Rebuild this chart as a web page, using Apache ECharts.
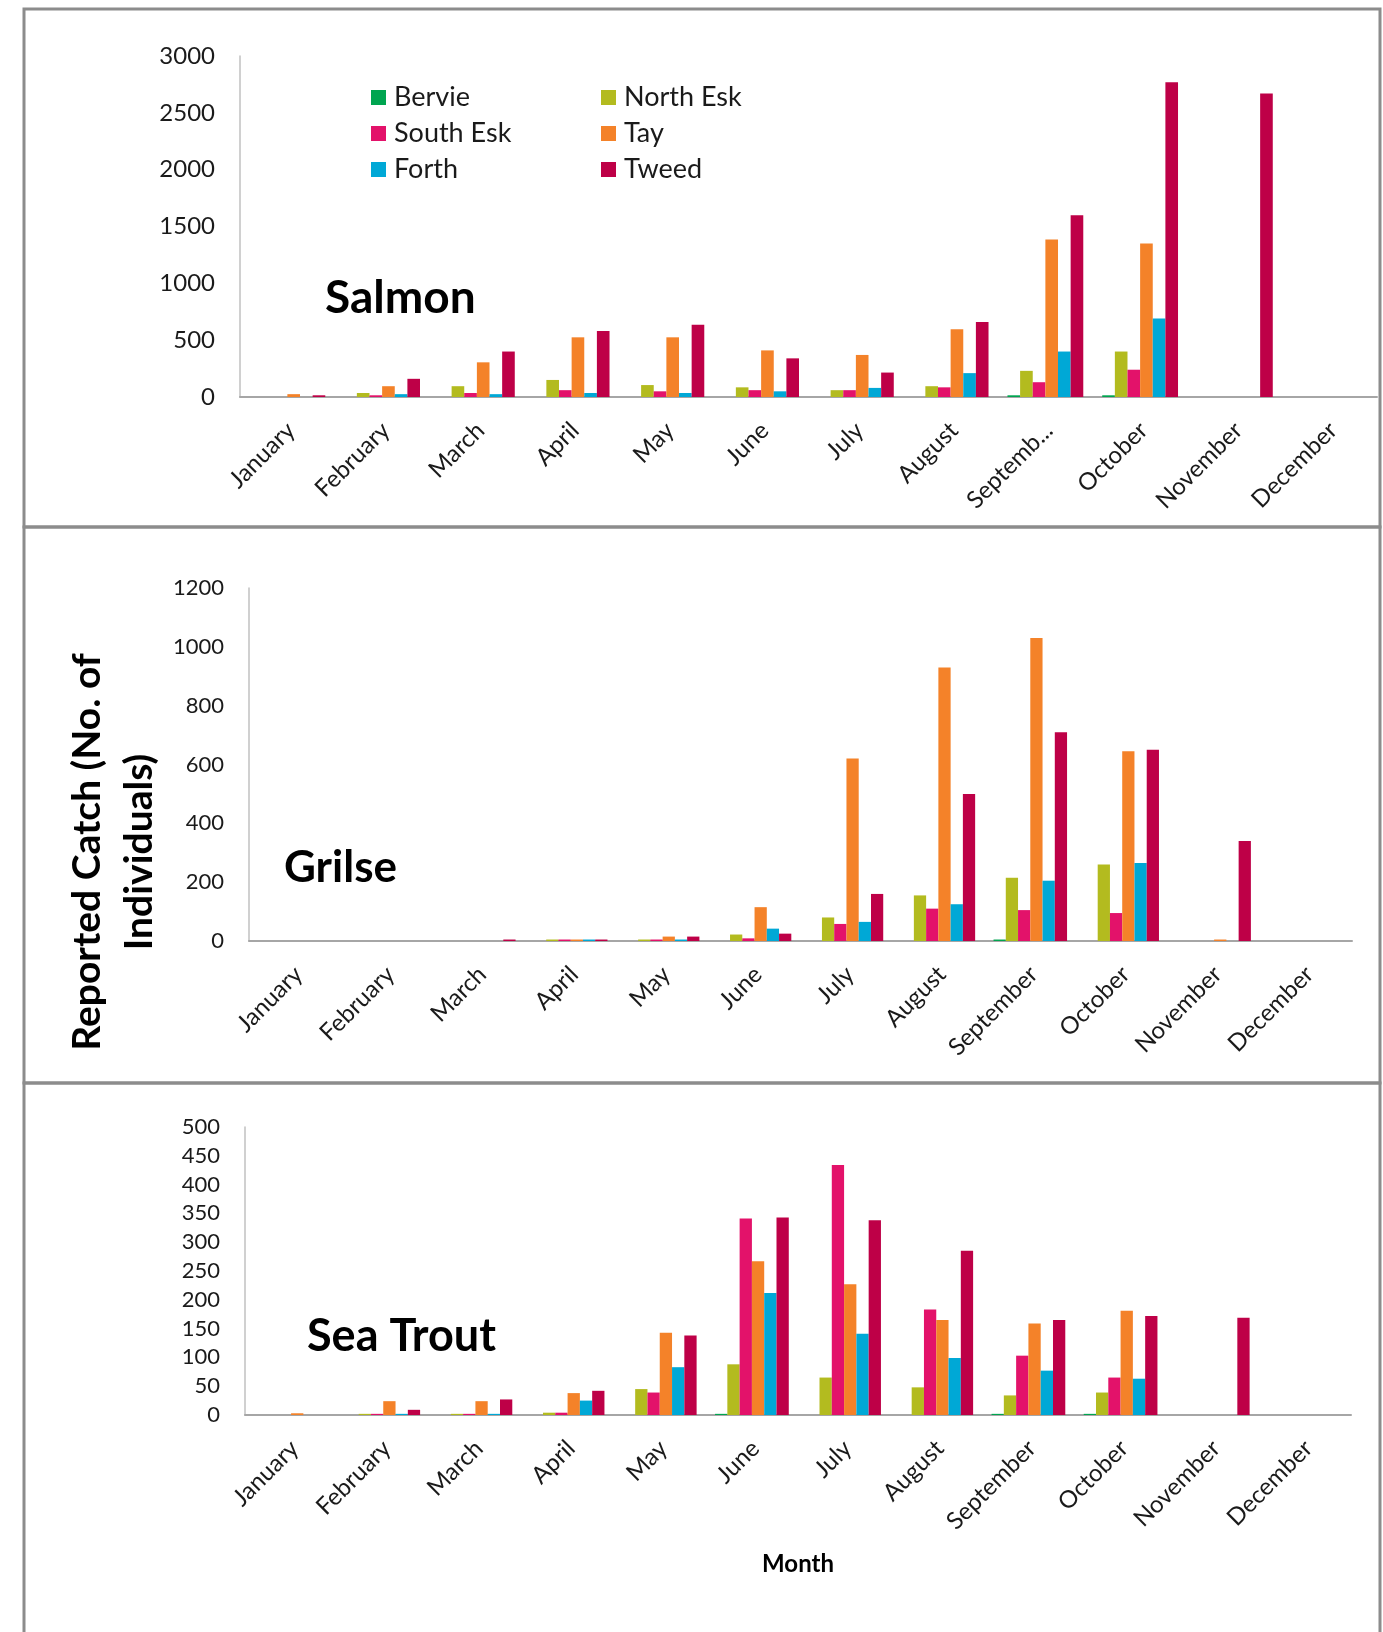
<!DOCTYPE html>
<html>
<head>
<meta charset="utf-8">
<script src="https://cdn.jsdelivr.net/npm/echarts@6/dist/echarts.min.js"></script>
<style>
html,body{margin:0;padding:0;background:#fff;}
#chart{width:1383px;height:1632px;}
</style>
</head>
<body>
<div id="chart"></div>
<script>
// ---------- data ----------
const months = ['January','February','March','April','May','June','July','August','September','October','November','December'];
const salmonMonths = ['January','February','March','April','May','June','July','August','Septemb...','October','November','December'];
const rivers = ['Bervie','North Esk','South Esk','Tay','Forth','Tweed'];
const riverColors = ['#00A550','#B3BB1F','#E3126A','#F48229','#00A8D6','#BE0047'];

const salmonBervie   = [0,0,0,0,0,0,0,0,15,15,0,0];
const salmonNorthEsk = [0,35,95,150,105,85,60,95,230,400,0,0];
const salmonSouthEsk = [0,15,35,60,50,60,60,85,130,240,0,0];
const salmonTay      = [25,95,305,525,525,410,370,595,1385,1350,0,0];
const salmonForth    = [0,25,25,35,35,50,80,210,400,690,0,0];
const salmonTweed    = [15,160,400,580,635,340,215,660,1600,2770,2670,0];

const grilseBervie   = [0,0,0,0,0,0,0,0,5,0,0,0];
const grilseNorthEsk = [0,0,0,5,5,22,80,155,215,260,0,0];
const grilseSouthEsk = [0,0,0,5,5,9,58,110,105,95,0,0];
const grilseTay      = [0,0,0,5,15,115,620,930,1030,645,5,0];
const grilseForth    = [0,0,0,5,5,42,65,125,205,265,0,0];
const grilseTweed    = [0,0,5,5,15,25,160,500,710,650,340,0];

const troutBervie    = [0,0,0,0,0,2,0,0,2,2,0,0];
const troutNorthEsk  = [0,2,2,4,45,88,65,48,34,39,0,0];
const troutSouthEsk  = [0,2,2,4,39,341,434,183,103,65,0,0];
const troutTay       = [3,24,24,38,143,267,227,165,159,181,0,0];
const troutForth     = [0,2,2,25,83,212,141,99,77,63,0,0];
const troutTweed     = [0,9,27,42,138,343,338,285,165,172,169,0];

const panelTitles = ['Salmon','Grilse','Sea Trout'];
const yMax = [3000,1200,500];
const yInterval = [500,200,50];

// ---------- build ----------
const panels = [
  [salmonBervie,salmonNorthEsk,salmonSouthEsk,salmonTay,salmonForth,salmonTweed],
  [grilseBervie,grilseNorthEsk,grilseSouthEsk,grilseTay,grilseForth,grilseTweed],
  [troutBervie,troutNorthEsk,troutSouthEsk,troutTay,troutForth,troutTweed]
];
const FONT = 'Lato, "Noto Sans", sans-serif';

const grids = [
  {left:240, top:56,   width:1137, height:341},
  {left:249, top:588,  width:1103, height:353},
  {left:245, top:1127, width:1106, height:288}
];
const tickFont = [24,22,22];
const cats = [salmonMonths, months, months];

const xAxes = grids.map((g,i)=>({
  type:'category', gridIndex:i, data:cats[i],
  axisLine:{show:true,lineStyle:{color:'#a6a6a6',width:2}},
  axisTick:{show:false},
  axisLabel:{interval:0, rotate:45, fontSize:24, fontFamily:FONT, color:'#1a1a1a',
             margin:33, padding:[0,-5,0,0]}
}));
const yAxes = grids.map((g,i)=>({
  type:'value', gridIndex:i, min:0, max:yMax[i], interval:yInterval[i],
  splitLine:{show:false},
  axisLine:{show:true,lineStyle:{color:'#c0c0c0',width:1.5}},
  axisTick:{show:false},
  axisLabel:{fontSize:tickFont[i], fontFamily:FONT, color:'#1a1a1a', margin:25,
             formatter:(v)=>String(v)}
}));

const series = [];
panels.forEach((arrs,i)=>{
  arrs.forEach((arr,j)=>{
    series.push({
      type:'bar', name:rivers[j], xAxisIndex:i, yAxisIndex:i,
      data:arr, barGap:'0%', barCategoryGap:'20%',
      itemStyle:{color:riverColors[j]},
      emphasis:{disabled:true}
    });
  });
});

const legendCommon = {
  orient:'vertical', itemWidth:15, itemHeight:15, itemGap:9,
  icon:'rect',
  textStyle:{fontSize:27, fontFamily:FONT, color:'#1a1a1a', lineHeight:26, padding:[0,0,0,3]}
};

const chart = echarts.init(document.getElementById('chart'), null, {renderer:'canvas'});
chart.setOption({
  backgroundColor:'#ffffff',
  animation:false,
  grid:grids,
  xAxis:xAxes,
  yAxis:yAxes,
  legend:[
    Object.assign({data:['Bervie','South Esk','Forth'], left:366, top:79}, legendCommon),
    Object.assign({data:['North Esk','Tay','Tweed'], left:596, top:79}, legendCommon)
  ],
  series:series,
  graphic:[
    {type:'rect', shape:{x:24,y:9,width:1356,height:518}, style:{fill:'none',stroke:'#8c8c8c',lineWidth:3}, silent:true},
    {type:'rect', shape:{x:24,y:527,width:1356,height:556}, style:{fill:'none',stroke:'#8c8c8c',lineWidth:3}, silent:true},
    {type:'rect', shape:{x:24,y:1083,width:1356,height:570}, style:{fill:'none',stroke:'#8c8c8c',lineWidth:3}, silent:true},
    {type:'text', x:325, y:298, style:{text:panelTitles[0], font:'bold 46px '+FONT, fill:'#000', align:'left', verticalAlign:'middle'}},
    {type:'text', x:284, y:868, style:{text:panelTitles[1], font:'bold 44px '+FONT, fill:'#000', align:'left', verticalAlign:'middle'}},
    {type:'text', x:307, y:1336, style:{text:panelTitles[2], font:'bold 45px '+FONT, fill:'#000', align:'left', verticalAlign:'middle'}},
    {type:'text', x:113, y:852, rotation:Math.PI/2,
     style:{text:'Reported Catch (No. of\nIndividuals)', font:'bold 39px '+FONT, fill:'#000', align:'center', verticalAlign:'middle', lineHeight:52}},
    {type:'text', x:798, y:1564, style:{text:'Month', font:'bold 24px '+FONT, fill:'#000', align:'center', verticalAlign:'middle'}}
  ]
});
</script>
</body>
</html>
